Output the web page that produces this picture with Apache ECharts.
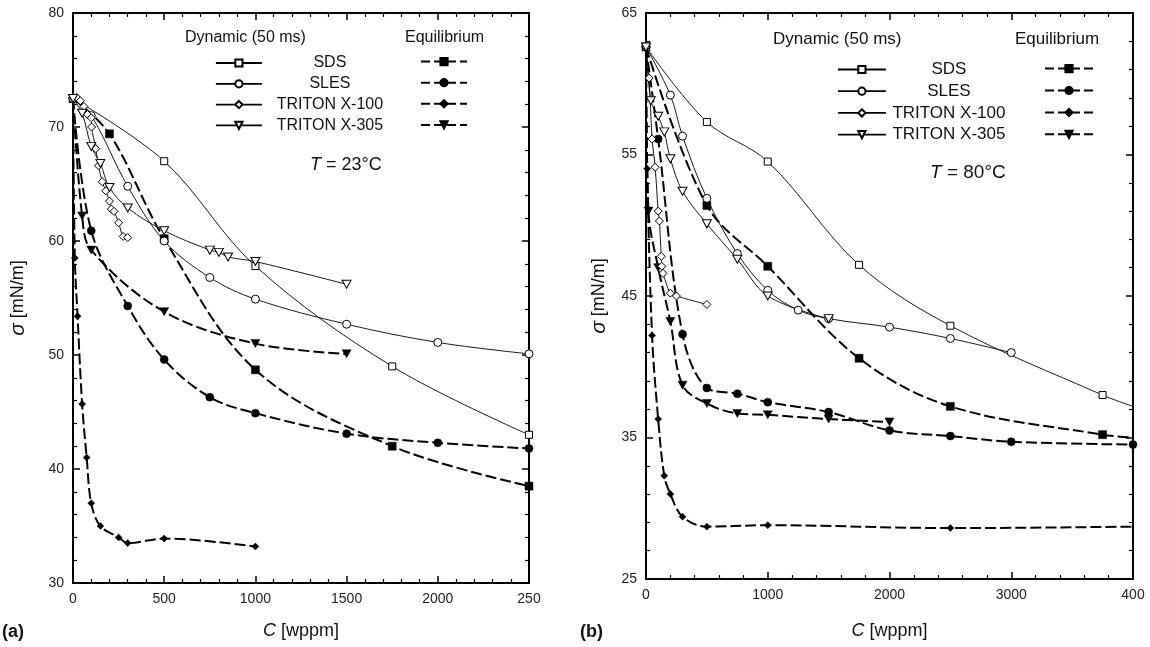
<!DOCTYPE html>
<html><head><meta charset="utf-8">
<script src="https://cdn.jsdelivr.net/npm/echarts@6/dist/echarts.min.js"></script>
<style>html,body{margin:0;padding:0;background:#fff}#c{width:1150px;height:647px}</style>
</head><body><div id="c"></div>
<script>
// ---------- DATA ----------
// Panel (a) T = 23 °C
const xTicksA = [0, 500, 1000, 1500, 2000, 2500];
const xTickLabelsA = ['0', '500', '1000', '1500', '2000', '250'];
const yTicksA = [30, 40, 50, 60, 70, 80];
const a_SDS_dyn = [[0,72.5],[500,67.0],[1000,57.8],[1750,49.0],[2500,43.0]];
const a_SLES_dyn = [[0,72.5],[100,71.0],[300,64.8],[500,60.0],[750,56.8],[1000,54.9],[1500,52.7],[2000,51.1],[2500,50.1]];
const a_TX100_dyn = [[0,72.6],[20,72.6],[40,72.3],[60,71.8],[80,71.1],[100,70.8],[102,70.0],[125,68.1],[140,66.6],[160,65.2],[180,64.4],[200,63.5],[210,62.8],[225,62.6],[250,61.6],[275,60.4],[300,60.3]];
const a_TX305_dyn = [[0,72.5],[50,71.2],[100,68.3],[150,66.8],[200,64.7],[300,62.9],[500,60.9],[750,59.2],[800,59.0],[850,58.6],[1000,58.2],[1500,56.2]];
const a_SDS_eq = [[0,72.5],[200,69.4],[500,60.2],[1000,48.7],[1750,42.0],[2500,38.5]];
const a_SLES_eq = [[0,72.5],[100,60.9],[300,54.3],[500,49.6],[750,46.3],[1000,44.9],[1500,43.1],[2000,42.3],[2500,41.8]];
const a_TX100_eq = [[0,72.5],[10,58.5],[25,53.4],[50,45.7],[75,41.0],[100,37.0],[150,35.0],[250,34.0],[300,33.5],[500,33.9],[1000,33.2]];
const a_TX305_eq = [[0,72.5],[50,62.2],[100,59.2],[500,53.8],[1000,51.0],[1500,50.1]];

// Panel (b) T = 80 °C
const xTicksB = [0, 1000, 2000, 3000, 4000];
const xTickLabelsB = ['0', '1000', '2000', '3000', '400'];
const yTicksB = [25, 35, 45, 55, 65];
const b_SDS_dyn = [[0,62.6],[500,57.3],[1000,54.5],[1750,47.2],[2500,42.9],[3750,38.0]];
const b_SDS_dyn_end = [4000, 37.2];
const b_SLES_dyn = [[0,62.6],[200,59.2],[300,56.3],[500,51.9],[750,48.0],[1000,45.4],[1250,44.0],[1500,43.4],[2000,42.8],[2500,42.0],[3000,41.0]];
const b_TX100_dyn = [[0,62.6],[25,60.4],[50,56.1],[75,54.1],[100,51.0],[110,50.3],[125,47.8],[130,47.1],[140,46.6],[200,45.2],[250,45.0],[500,44.4]];
const b_TX305_dyn = [[0,62.6],[40,58.8],[100,57.7],[150,56.6],[200,54.7],[300,52.4],[500,50.1],[750,47.6],[1000,45.0],[1500,43.4]];
const b_SDS_eq = [[0,62.6],[500,51.4],[1000,47.1],[1750,40.6],[2500,37.2],[3750,35.2]];
const b_SDS_eq_end = [4000, 35.0];
const b_SLES_eq = [[0,62.6],[100,56.1],[300,42.3],[500,38.5],[750,38.1],[1000,37.5],[1500,36.8],[2000,35.5],[2500,35.1],[3000,34.7],[4000,34.5]];
const b_TX100_eq = [[0,62.6],[10,54.0],[50,42.2],[100,36.3],[150,32.3],[200,31.0],[300,29.4],[500,28.7],[1000,28.8],[2500,28.6]];
const b_TX100_eq_end = [4000, 28.7];
const b_TX305_eq = [[0,62.6],[20,51.0],[100,47.0],[200,43.2],[300,38.7],[500,37.4],[750,36.7],[1000,36.6],[1500,36.3],[2000,36.1]];

const names = ['SDS', 'SLES', 'TRITON X-100', 'TRITON X-305'];
const eqNames = ['SDS eq', 'SLES eq', 'TRITON X-100 eq', 'TRITON X-305 eq'];

// ---------- STYLE ----------
const FONT = 'Liberation Sans, Arial, Helvetica, sans-serif';
const TRI = 'path://M0,0L10,0L5,9Z';
const symDyn = [['rect', 7], ['circle', 8], ['diamond', 8], [TRI, [9, 8]]];
const symEq = [['rect', 8], ['circle', 8], ['diamond', 7], [TRI, [9, 8]]];

function withEnd(arr, end) {
  const d = arr.map(p => p.slice());
  if (end) d.push({ value: end, symbol: 'none' });
  return d;
}
function mkSeries(name, data, idx, dyn, k) {
  const s = dyn ? symDyn[k] : symEq[k];
  return {
    type: 'line', name: name, data: data,
    xAxisIndex: idx * 2, yAxisIndex: idx * 2,
    smooth: 0.35,
    symbol: s[0], symbolSize: s[1], showSymbol: true,
    lineStyle: dyn ? { color: '#000', width: 0.9, type: 'solid' } : { color: '#000', width: 2, type: [11, 4] },
    itemStyle: dyn ? { color: '#fff', borderColor: '#000', borderWidth: 1 } : { color: '#000', borderColor: '#000', borderWidth: 0.5 },
    emphasis: { disabled: true }, z: dyn ? 3 : 2
  };
}

const series = [];
const dynA = [a_SDS_dyn, a_SLES_dyn, a_TX100_dyn, a_TX305_dyn];
const eqA = [a_SDS_eq, a_SLES_eq, a_TX100_eq, a_TX305_eq];
const dynB = [withEnd(b_SDS_dyn, b_SDS_dyn_end), b_SLES_dyn, b_TX100_dyn, b_TX305_dyn];
const eqB = [withEnd(b_SDS_eq, b_SDS_eq_end), b_SLES_eq, withEnd(b_TX100_eq, b_TX100_eq_end), b_TX305_eq];
for (let k = 0; k < 4; k++) {
  series.push(mkSeries(names[k], dynA[k], 0, true, k));
  series.push(mkSeries(eqNames[k], eqA[k], 0, false, k));
  series.push(mkSeries(names[k], dynB[k], 1, true, k));
  series.push(mkSeries(eqNames[k], eqB[k], 1, false, k));
}

function xAxes(gi, max, interval, ticks, labels, gap) {
  const base = {
    gridIndex: gi, type: 'value', min: 0, max: max, interval: interval,
    axisLine: { show: true, onZero: false, lineStyle: { color: '#000', width: 2 } },
    axisTick: { show: true, inside: true, length: 7, lineStyle: { color: '#000', width: 1.5 } },
    minorTick: { show: true, splitNumber: 5, length: 4, lineStyle: { color: '#000', width: 1.2 } },
    splitLine: { show: false }
  };
  return [
    Object.assign({}, base, {
      position: 'bottom',
      axisLabel: { color: '#222', fontFamily: FONT, fontSize: 14, margin: 9,
        formatter: v => labels[ticks.indexOf(v)] },
      name: '{i|C} [wppm]', nameLocation: 'middle', nameGap: gap,
      nameTextStyle: { color: '#111', fontFamily: FONT, fontSize: 18,
        rich: { i: { fontStyle: 'italic', fontFamily: FONT, fontSize: 18, color: '#111' } } }
    }),
    Object.assign({}, base, { position: 'top', axisLabel: { show: false } })
  ];
}
function yAxes(gi, min, max, interval, gap) {
  const base = {
    gridIndex: gi, type: 'value', min: min, max: max, interval: interval,
    axisLine: { show: true, onZero: false, lineStyle: { color: '#000', width: 2 } },
    axisTick: { show: true, inside: true, length: 7, lineStyle: { color: '#000', width: 1.5 } },
    minorTick: { show: true, splitNumber: 5, length: 4, lineStyle: { color: '#000', width: 1.2 } },
    splitLine: { show: false }
  };
  return [
    Object.assign({}, base, {
      position: 'left',
      axisLabel: { color: '#222', fontFamily: FONT, fontSize: 14, margin: 9 },
      name: '{i|σ} [mN/m]', nameLocation: 'middle', nameGap: gap,
      nameTextStyle: { color: '#111', fontFamily: FONT, fontSize: 18,
        rich: { i: { fontStyle: 'italic', fontFamily: FONT, fontSize: 21, color: '#111' } } }
    }),
    Object.assign({}, base, { position: 'right', axisLabel: { show: false } })
  ];
}

function legendDyn(left, top, iw, gapV, fs, center) {
  return {
    orient: 'vertical', left: left, top: top, itemWidth: iw, itemHeight: 9, itemGap: gapV,
    selectedMode: false, data: names,
    lineStyle: { width: 1.8 },
    formatter: n => '{c|' + n + '}',
    textStyle: { color: '#111', fontFamily: FONT, fontSize: fs,
      rich: { c: { width: center, align: 'center', lineHeight: 14, fontFamily: FONT, fontSize: fs, color: '#111' } } }
  };
}
function legendEq(left, top, iw, gapV) {
  return {
    orient: 'vertical', left: left, top: top, itemWidth: iw, itemHeight: 9, itemGap: gapV,
    selectedMode: false, data: eqNames, formatter: () => '',
    lineStyle: { width: 2, type: [9, 4] },
    textStyle: { fontSize: 1, lineHeight: 1 }
  };
}

const option = {
  animation: false,
  backgroundColor: '#fff',
  textStyle: { fontFamily: FONT },
  grid: [
    { left: 73, top: 13, width: 456, height: 570 },
    { left: 646, top: 13, width: 487, height: 566 }
  ],
  xAxis: [].concat(xAxes(0, 2500, 500, xTicksA, xTickLabelsA, 39), xAxes(1, 4000, 1000, xTicksB, xTickLabelsB, 43)),
  yAxis: [].concat(yAxes(0, 30, 80, 10, 44), yAxes(1, 25, 65, 10, 36)),
  legend: [
    legendDyn(210, 50, 46, 4.8, 16, 126),
    legendEq(415, 52, 46, 11.9),
    legendDyn(832, 56, 48, 4.7, 17, 116),
    legendEq(1039, 59, 48, 12.7)
  ],
  graphic: [
    { type: 'text', left: 185, top: 30, style: { text: 'Dynamic (50 ms)', font: '16px ' + FONT, fill: '#111' } },
    { type: 'text', left: 405, top: 30, style: { text: 'Equilibrium', font: '16px ' + FONT, fill: '#111' } },
    { type: 'text', left: 310, top: 156, style: { rich: { i: { fontStyle: 'italic', fontSize: 18, fontFamily: FONT, fill: '#111' }, n: { fontSize: 18, fontFamily: FONT, fill: '#111' } }, text: '{i|T}{n| = 23°C}' } },
    { type: 'text', left: 773, top: 31, style: { text: 'Dynamic (50 ms)', font: '17px ' + FONT, fill: '#111' } },
    { type: 'text', left: 1015, top: 31, style: { text: 'Equilibrium', font: '17px ' + FONT, fill: '#111' } },
    { type: 'text', left: 930, top: 163, style: { rich: { i: { fontStyle: 'italic', fontSize: 19, fontFamily: FONT, fill: '#111' }, n: { fontSize: 19, fontFamily: FONT, fill: '#111' } }, text: '{i|T}{n| = 80°C}' } },
    { type: 'text', left: 2, top: 623, style: { text: '(a)', font: 'bold 18px ' + FONT, fill: '#111' } },
    { type: 'text', left: 580, top: 623, style: { text: '(b)', font: 'bold 18px ' + FONT, fill: '#111' } }
  ],
  series: series
};
const chart = echarts.init(document.getElementById('c'), null, { renderer: 'canvas' });
chart.setOption(option);
</script></body></html>
